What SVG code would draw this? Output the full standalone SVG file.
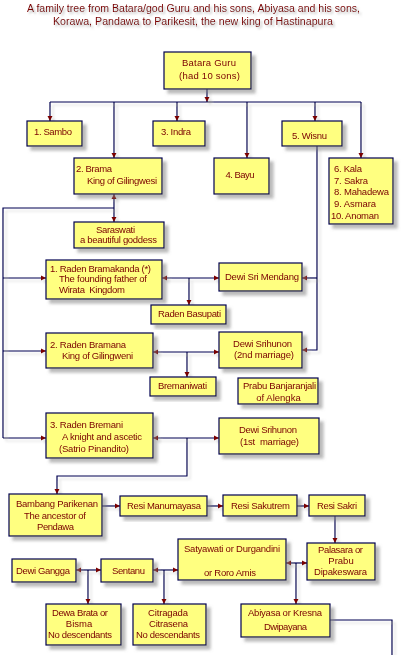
<svg xmlns="http://www.w3.org/2000/svg" width="404" height="655" viewBox="0 0 404 655">
<style>
  .box rect { fill: #FFFF80; stroke: #000050; stroke-width: 1.2; }
  .box { filter: url(#shadow); }
  text { font-family: "Liberation Sans", Arial, sans-serif; font-size: 9.5px; fill: #7a0000; }
  .c { text-anchor: middle; }
  .title { font-size: 10px; filter: url(#tshadow); }
  #connectors path { fill: none; stroke: #000050; stroke-width: 1.2; }
  #connectors { filter: url(#lshadow); }
</style>
<defs>
  <filter id="shadow" x="-10%" y="-10%" width="130%" height="140%">
    <feDropShadow dx="4" dy="4" stdDeviation="1.6" flood-color="#808080" flood-opacity="0.55"/>
  </filter>
  <filter id="lshadow" x="-5%" y="-5%" width="115%" height="115%">
    <feDropShadow dx="3" dy="3" stdDeviation="1.2" flood-color="#a0a0a0" flood-opacity="0.35"/>
  </filter>
  <filter id="tshadow" x="-5%" y="-30%" width="115%" height="180%">
    <feDropShadow dx="2" dy="2" stdDeviation="1" flood-color="#909090" flood-opacity="0.6"/>
  </filter>
  <marker id="ar" markerUnits="userSpaceOnUse" markerWidth="6" markerHeight="6" refX="5" refY="3" orient="auto-start-reverse" viewBox="0 0 6 6">
    <path d="M0,0.5 L5,3 L0,5.5 z" fill="#7a0000"/>
  </marker>
</defs>
<rect width="404" height="655" fill="#ffffff"/>

<g id="title">
  <text class="title c" x="193.5" y="12" textLength="333" lengthAdjust="spacingAndGlyphs">A family tree from Batara/god Guru and his sons, Abiyasa and his sons,</text>
  <text class="title c" x="193" y="25" textLength="280" lengthAdjust="spacingAndGlyphs">Korawa, Pandawa to Parikesit, the new king of Hastinapura</text>
</g>

<g id="connectors">
  <path d="M207,89 V102" marker-end="url(#ar)"/>
  <path d="M50,102 H361"/>
  <path d="M50,102 V121" marker-end="url(#ar)"/>
  <path d="M114,102 V158" marker-end="url(#ar)"/>
  <path d="M177,102 V121" marker-end="url(#ar)"/>
  <path d="M247,102 V158" marker-end="url(#ar)"/>
  <path d="M315,102 V121" marker-end="url(#ar)"/>
  <path d="M361,102 V158" marker-end="url(#ar)"/>
  <path d="M317,146 V350 H302" marker-end="url(#ar)"/>
  <path d="M317,278 H302" marker-end="url(#ar)"/>
  <path d="M114,194 V222" marker-start="url(#ar)" marker-end="url(#ar)"/>
  <path d="M114,208 H3 V438"/>
  <path d="M3,278 H46" marker-end="url(#ar)"/>
  <path d="M3,351 H46" marker-end="url(#ar)"/>
  <path d="M3,438 H46" marker-end="url(#ar)"/>
  <path d="M162,278 H219" marker-start="url(#ar)" marker-end="url(#ar)"/>
  <path d="M189,278 V305" marker-end="url(#ar)"/>
  <path d="M153,352 H219" marker-start="url(#ar)" marker-end="url(#ar)"/>
  <path d="M187,352 V377" marker-end="url(#ar)"/>
  <path d="M153,438 H219" marker-start="url(#ar)" marker-end="url(#ar)"/>
  <path d="M187,438 V476 H57 V494" marker-end="url(#ar)"/>
  <path d="M102,506 H120" marker-end="url(#ar)"/>
  <path d="M207,506 H223" marker-end="url(#ar)"/>
  <path d="M297,506 H309" marker-end="url(#ar)"/>
  <path d="M335,516 V543" marker-end="url(#ar)"/>
  <path d="M286,563 H307" marker-start="url(#ar)" marker-end="url(#ar)"/>
  <path d="M296,563 V604" marker-end="url(#ar)"/>
  <path d="M330,620 H392 V655"/>
  <path d="M76,570 H101" marker-start="url(#ar)" marker-end="url(#ar)"/>
  <path d="M88,570 V604" marker-end="url(#ar)"/>
  <path d="M153,570 H178" marker-start="url(#ar)" marker-end="url(#ar)"/>
  <path d="M164,570 V604" marker-end="url(#ar)"/>
</g>

<g id="batara-guru" class="box">
  <rect x="164" y="52" width="87" height="37"/>
  <text class="c" x="209" y="66" textLength="54">Batara Guru</text>
  <text class="c" x="209.5" y="79" textLength="61">(had 10 sons)</text>
</g>
<g id="sambo" class="box">
  <rect x="27" y="121" width="55" height="25"/>
  <text x="34" y="135" textLength="38">1. Sambo</text>
</g>
<g id="indra" class="box">
  <rect x="153" y="121" width="52" height="25"/>
  <text x="161" y="135" textLength="30">3. Indra</text>
</g>
<g id="wisnu" class="box">
  <rect x="282" y="121" width="60" height="25"/>
  <text x="292" y="139" textLength="35">5. Wisnu</text>
</g>
<g id="brama" class="box">
  <rect x="74" y="158" width="88" height="36"/>
  <text x="76" y="172" textLength="36">2. Brama</text>
  <text x="87" y="184" textLength="70">King of Gilingwesi</text>
</g>
<g id="bayu" class="box">
  <rect x="214" y="158" width="55" height="36"/>
  <text class="c" x="240" y="178" textLength="29">4. Bayu</text>
</g>
<g id="kala" class="box">
  <rect x="329" y="158" width="64" height="66"/>
  <text x="334" y="172" textLength="28">6. Kala</text>
  <text x="334" y="184" textLength="34">7. Sakra</text>
  <text x="334" y="195" textLength="55">8. Mahadewa</text>
  <text x="334" y="207" textLength="42">9. Asmara</text>
  <text x="331" y="219" textLength="48">10. Anoman</text>
</g>
<g id="saraswati" class="box">
  <rect x="74" y="222" width="90" height="26"/>
  <text class="c" x="115.5" y="233" textLength="39">Saraswati</text>
  <text class="c" x="118.5" y="243" textLength="77">a beautiful goddess</text>
</g>
<g id="bramakanda" class="box">
  <rect x="46" y="260" width="116" height="39"/>
  <text x="50" y="272" textLength="101">1. Raden Bramakanda (*)</text>
  <text x="59" y="282" textLength="88">The founding father of</text>
  <text x="59" y="293" textLength="66" xml:space="preserve">Wirata  Kingdom</text>
</g>
<g id="sri-mendang" class="box">
  <rect x="219" y="263" width="83" height="28"/>
  <text x="225" y="280" textLength="74">Dewi Sri Mendang</text>
</g>
<g id="basupati" class="box">
  <rect x="151" y="305" width="75" height="19"/>
  <text x="158" y="317" textLength="63">Raden Basupati</text>
</g>
<g id="bramana" class="box">
  <rect x="46" y="333" width="107" height="35"/>
  <text x="50" y="348" textLength="76">2. Raden Bramana</text>
  <text x="62" y="359" textLength="71">King of Gilingweni</text>
</g>
<g id="srihunon-2" class="box">
  <rect x="219" y="332" width="83" height="36"/>
  <text x="233" y="347" textLength="59">Dewi Srihunon</text>
  <text x="234" y="358" textLength="60">(2nd marriage)</text>
</g>
<g id="bremaniwati" class="box">
  <rect x="150" y="377" width="66" height="19"/>
  <text x="158" y="389" textLength="49">Bremaniwati</text>
</g>
<g id="banjaranjali" class="box">
  <rect x="238" y="378" width="80" height="26"/>
  <text class="c" x="279.5" y="389" textLength="73">Prabu Banjaranjali</text>
  <text class="c" x="278.5" y="401">of Alengka</text>
</g>
<g id="bremani" class="box">
  <rect x="46" y="413" width="107" height="45"/>
  <text x="50" y="428" textLength="73">3. Raden Bremani</text>
  <text x="62" y="440" textLength="80">A knight and ascetic</text>
  <text x="59" y="452" textLength="70">(Satrio Pinandito)</text>
</g>
<g id="srihunon-1" class="box">
  <rect x="219" y="418" width="100" height="36"/>
  <text x="239" y="433" textLength="58">Dewi Srihunon</text>
  <text x="240" y="445" textLength="59" xml:space="preserve">(1st  marriage)</text>
</g>
<g id="parikenan" class="box">
  <rect x="9" y="494" width="93" height="42"/>
  <text x="16" y="507" textLength="82">Bambang Parikenan</text>
  <text x="24" y="519" textLength="62">The ancestor of</text>
  <text x="37" y="530" textLength="37">Pendawa</text>
</g>
<g id="manumayasa" class="box">
  <rect x="120" y="496" width="87" height="20"/>
  <text x="127" y="509" textLength="74">Resi Manumayasa</text>
</g>
<g id="sakutrem" class="box">
  <rect x="223" y="495" width="74" height="21"/>
  <text x="231" y="509" textLength="59">Resi Sakutrem</text>
</g>
<g id="sakri" class="box">
  <rect x="309" y="495" width="56" height="21"/>
  <text x="317" y="509" textLength="40">Resi Sakri</text>
</g>
<g id="palasara" class="box">
  <rect x="307" y="543" width="68" height="37"/>
  <text class="c" x="340.5" y="553" textLength="45">Palasara or</text>
  <text class="c" x="341" y="564">Prabu</text>
  <text class="c" x="340.5" y="575" textLength="53">Dipakeswara</text>
</g>
<g id="satyawati" class="box">
  <rect x="178" y="539" width="108" height="41"/>
  <text x="184" y="552" textLength="96">Satyawati or Durgandini</text>
  <text x="204" y="576" textLength="52">or Roro Amis</text>
</g>
<g id="abiyasa" class="box">
  <rect x="241" y="604" width="89" height="33"/>
  <text x="248" y="616" textLength="74">Abiyasa or Kresna</text>
  <text x="264" y="630" textLength="43">Dwipayana</text>
</g>
<g id="gangga" class="box">
  <rect x="12" y="559" width="64" height="23"/>
  <text x="16" y="574" textLength="54">Dewi Gangga</text>
</g>
<g id="sentanu" class="box">
  <rect x="101" y="559" width="52" height="23"/>
  <text x="112" y="574" textLength="33">Sentanu</text>
</g>
<g id="dewa-brata" class="box">
  <rect x="46" y="604" width="75" height="41"/>
  <text x="52" y="616" textLength="56">Dewa Brata or</text>
  <text class="c" x="79" y="627">Bisma</text>
  <text x="48" y="638" textLength="64">No descendants</text>
</g>
<g id="citragada" class="box">
  <rect x="133" y="604" width="73" height="41"/>
  <text x="148" y="616" textLength="40">Citragada</text>
  <text x="149" y="627" textLength="39">Citrasena</text>
  <text x="136" y="638" textLength="64">No descendants</text>
</g>
</svg>
